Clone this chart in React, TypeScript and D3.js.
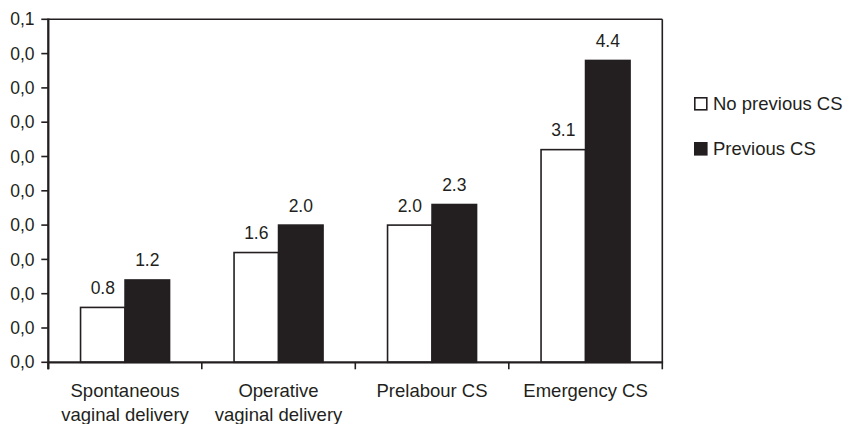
import React from "react";
import * as d3 from "d3";

const categories = [
  ["Spontaneous", "vaginal delivery"],
  ["Operative", "vaginal delivery"],
  ["Prelabour CS"],
  ["Emergency CS"],
];
const seriesNames = ["No previous CS", "Previous CS"];
const noPrevious = [0.8, 1.6, 2.0, 3.1];
const previous = [1.2, 2.0, 2.3, 4.4];
const yTickValues = [0, 0.5, 1, 1.5, 2, 2.5, 3, 3.5, 4, 4.5, 5];
const yTickLabels = ["0,0", "0,0", "0,0", "0,0", "0,0", "0,0", "0,0", "0,0", "0,0", "0,0", "0,1"];

const INK = "#231f20";
const FONT = "'Liberation Sans', Arial, Helvetica, sans-serif";

export default function App() {
  const W = 848, H = 424;
  const left = 48.3, right = 662.3, top = 19.3, bottom = 362.3;
  const x0 = d3.scaleBand<number>().domain(d3.range(categories.length)).range([left, right]).padding(0);
  const x1 = d3.scaleBand<number>().domain([0, 1]).range([32.25, 121.25]).padding(0);
  const y = d3.scaleLinear().domain([0, 5]).range([bottom, top]);
  const series = [noPrevious, previous];
  const fills = ["#ffffff", INK];

  return (
    <svg width={W} height={H} style={{ position: "absolute", left: 0, top: 0, background: "#fff" }} fontFamily={FONT}>
      <rect x={0} y={0} width={W} height={H} fill="#fff" />
      {/* bars */}
      {series.map((vals, si) =>
        vals.map((v, ci) => {
          const bx = (x0(ci) as number) + (x1(si) as number);
          const bw = x1.bandwidth();
          const by = y(v);
          return (
            <g key={`${si}-${ci}`}>
              <rect x={bx} y={by} width={bw} height={bottom - by} fill={fills[si]} stroke={INK} strokeWidth={1.6} />
              <text x={bx + bw / 2} y={by - 13.5} textAnchor="middle" fontSize={17.5} fill={INK}>
                {v.toFixed(1)}
              </text>
            </g>
          );
        })
      )}
      {/* frame top and right */}
      <line x1={left} x2={right} y1={top} y2={top} stroke={INK} strokeWidth={1.6} />
      <line x1={right} x2={right} y1={top} y2={bottom} stroke={INK} strokeWidth={1.6} />
      {/* y axis */}
      <line x1={left} x2={left} y1={top - 0.8} y2={bottom + 7} stroke={INK} strokeWidth={2.3} />
      {yTickValues.map((t, i) => (
        <g key={i}>
          <line x1={left - 7} x2={left} y1={y(t)} y2={y(t)} stroke={INK} strokeWidth={1.6} />
          <text x={34.5} y={y(t)} dy="0.35em" textAnchor="end" fontSize={17.5} fill={INK}>
            {yTickLabels[i]}
          </text>
        </g>
      ))}
      {/* x axis */}
      <line x1={left} x2={right + 0.8} y1={bottom} y2={bottom} stroke={INK} strokeWidth={2.3} />
      {d3.range(categories.length + 1).map((i) => {
        const tx = i < categories.length ? (x0(i) as number) : right;
        return <line key={i} x1={tx} x2={tx} y1={bottom} y2={bottom + 7} stroke={INK} strokeWidth={1.6} />;
      })}
      {categories.map((lines, ci) => {
        const cx = (x0(ci) as number) + x0.bandwidth() / 2;
        return (
          <text key={ci} x={cx} y={397} textAnchor="middle" fontSize={18.5} fill={INK}>
            {lines.map((l, li) => (
              <tspan key={li} x={cx} dy={li === 0 ? 0 : 23.5}>
                {l}
              </tspan>
            ))}
          </text>
        );
      })}
      {/* legend */}
      {seriesNames.map((name, i) => {
        const cy = 104 + i * 45;
        return (
          <g key={name}>
            <rect x={694.8} y={cy - 6.2} width={12} height={12} fill={fills[i]} stroke={INK} strokeWidth={1.6} />
            <text x={713} y={cy} dy="0.35em" fontSize={18.5} fill={INK}>
              {name}
            </text>
          </g>
        );
      })}
    </svg>
  );
}
